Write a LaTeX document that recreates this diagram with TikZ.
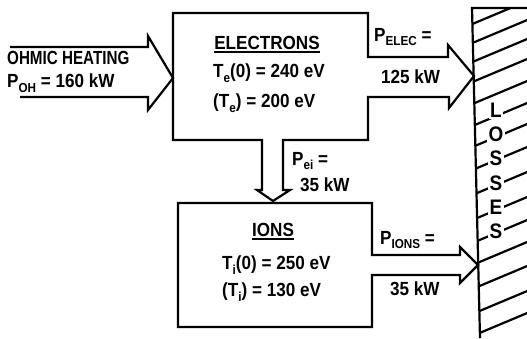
\documentclass[tikz,border=0pt]{standalone}
\usepackage{fontspec}
\setmainfont{Liberation Sans}[FakeStretch=0.9]
\newcommand{\subtxt}[1]{\raisebox{-0.45ex}{\fontsize{13}{13}\selectfont #1}}

\begin{document}
\begin{tikzpicture}[x=1pt,y=-1pt,
  outline/.style={line width=2.2pt,line join=miter},
  hatch/.style={line width=2.2pt},
  uline/.style={line width=1.6pt},
  txt/.style={font=\fontsize{19}{21}\selectfont\bfseries,inner sep=0pt,anchor=west},
  boxtitle/.style={font=\fontsize{19}{21}\selectfont\bfseries,inner sep=0pt},
  letter/.style={font=\fontsize{21}{21}\selectfont\bfseries,fill=white,inner sep=1.5pt}
]
  \useasboundingbox (0,0) rectangle (527,338);

  \draw[outline] (10,47) -- (148,47) -- (148,36) -- (173,78) -- (148,110) -- (148,97) -- (20,97);
  \draw[outline] (173,13) -- (368,13) -- (368,57) -- (448,57) -- (448,45) -- (474,76) -- (449,108)
    -- (449,97) -- (368,97) -- (368,140) -- (283,140) -- (283,190) -- (290,190) -- (273,201)
    -- (257,190) -- (262,190) -- (262,140) -- (173,140) -- cycle;
  \draw[outline] (178,203) -- (372,203) -- (372,255) -- (460,255) -- (460,247) -- (478,265)
    -- (460,283) -- (460,275) -- (372,275) -- (372,327) -- (178,327) -- cycle;

  \begin{scope}
    \clip (472,8) -- (527,8) -- (527,338) -- (480,338) -- cycle;
    \foreach \yy in {25,44,63,83,105,127,148,171,196,221,244,266,290,315,337}
      \draw[hatch] (470,\yy) -- ++(62,-26);
  \end{scope}
  \draw[outline] (480,338) -- (472,8) -- (527,8);

  \foreach \ch/\yy [count=\i] in {L/110,O/134,S/158,S/183,E/207,S/231}
    \node[letter] (loss\i) at (496,\yy) {\ch};

  \node[txt] (ohm) at (7,58) {\addfontfeature{FakeStretch=0.8}OHMIC HEATING};
  \node[txt] (poh) at (7,83) {P\subtxt{OH} = 160 kW};

  \node[boxtitle] (etitle) at (267,43) {ELECTRONS};
  \draw[uline] ([yshift=-2pt]etitle.south west) -- ([yshift=-2pt]etitle.south east);
  \node[txt] (te0) at (213,73) {T\subtxt{e}(0) = 240 eV};
  \node[txt] (teav) at (213,103) {(T\subtxt{e}) = 200 eV};

  \node[txt] (pelec) at (374,37) {P\subtxt{ELEC} =};
  \node[txt] (welec) at (381,77) {125 kW};
  \node[txt] (pei) at (292,161) {P\subtxt{ei} =};
  \node[txt] (wei) at (300,185) {35 kW};

  \node[boxtitle] (ititle) at (273,230) {IONS};
  \draw[uline] ([yshift=-2pt]ititle.south west) -- ([yshift=-2pt]ititle.south east);
  \node[txt] (ti0) at (222,265) {T\subtxt{i}(0) = 250 eV};
  \node[txt] (tiav) at (222,292) {(T\subtxt{i}) = 130 eV};

  \node[txt] (pions) at (380,240) {P\subtxt{IONS} =};
  \node[txt] (wions) at (390,289) {35 kW};
\end{tikzpicture}
\end{document}
